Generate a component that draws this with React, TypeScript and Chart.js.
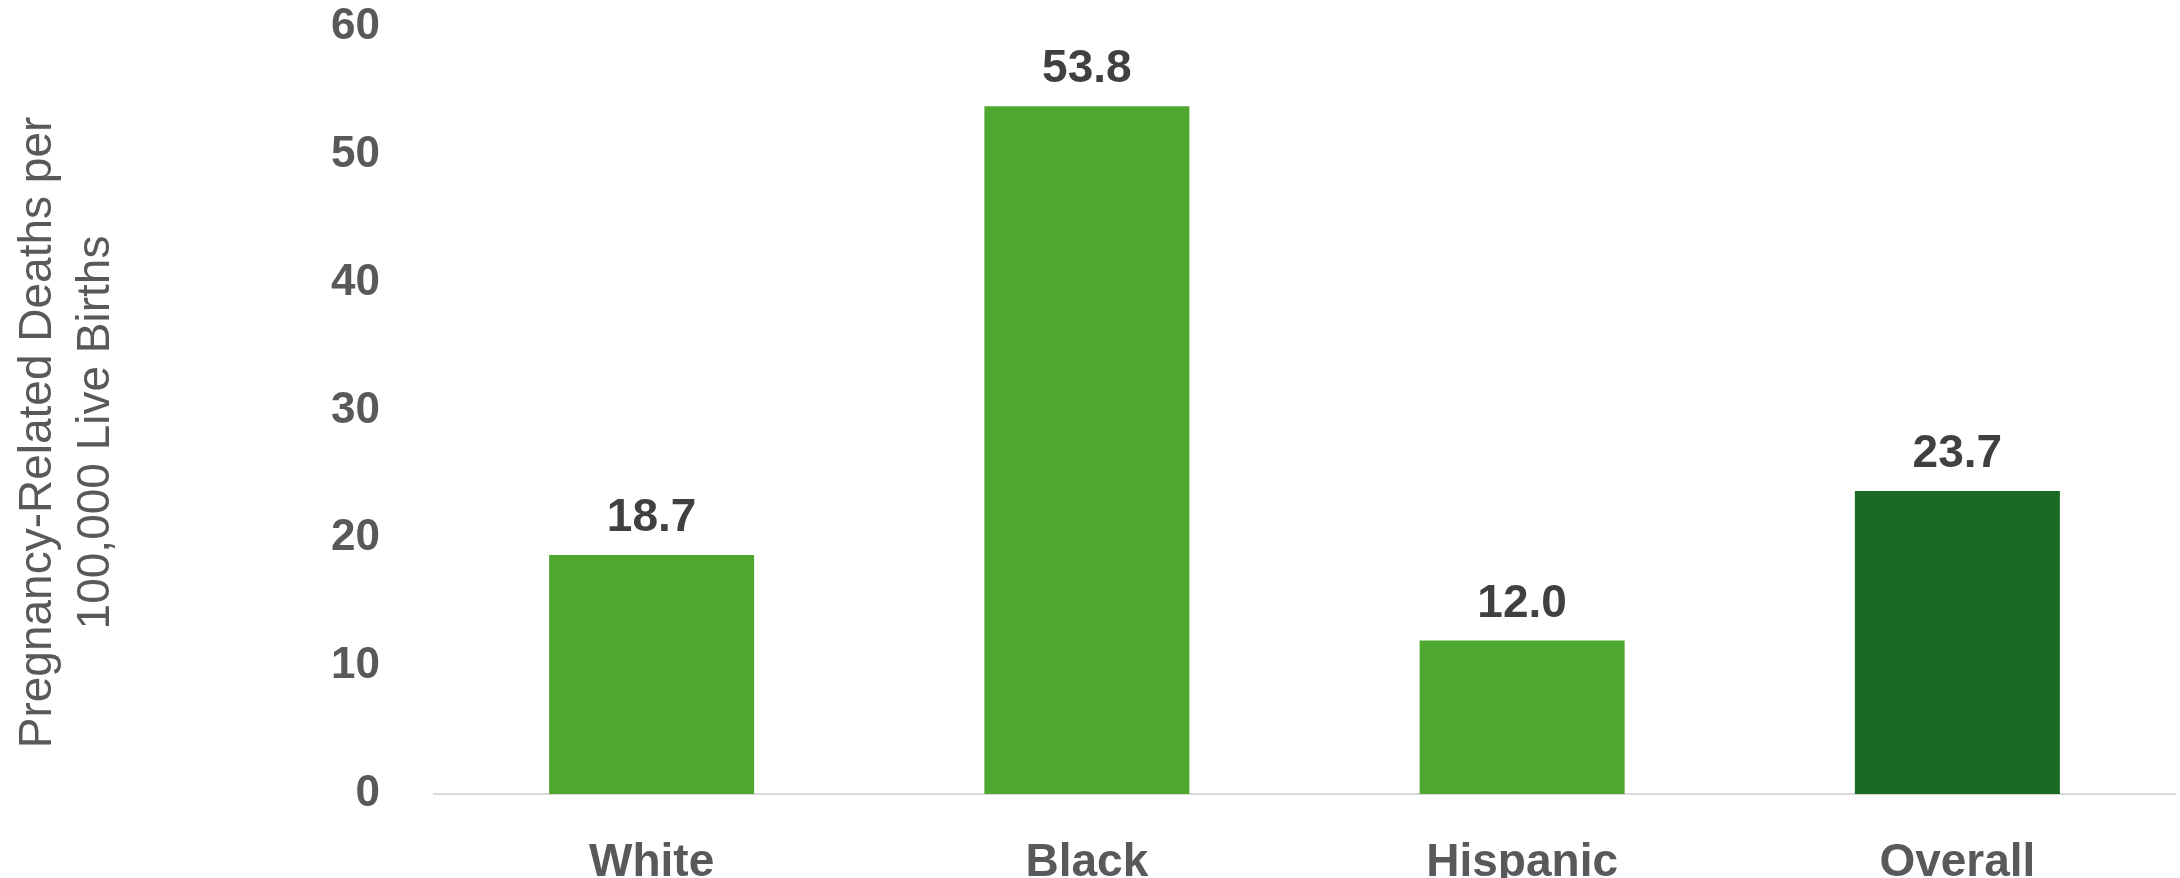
import React, { useEffect, useRef } from "react";
import { Chart, registerables } from "chart.js";

Chart.register(...registerables);

const categories = ["White", "Black", "Hispanic", "Overall"];
const deathRates = [18.7, 53.8, 12.0, 23.7];
const barColors = ["#4EA72E", "#4EA72E", "#4EA72E", "#196B24"];
const yTickValues = [0, 10, 20, 30, 40, 50, 60];
const axisTitleLines = ["Pregnancy-Related Deaths per", "100,000 Live Births"];

const FONT = "'Liberation Sans', Arial, Helvetica, sans-serif";

const dataLabelPlugin = {
  id: "dataLabels",
  afterDatasetsDraw(chart: any) {
    const ctx = chart.ctx;
    const meta = chart.getDatasetMeta(0);
    ctx.save();
    ctx.font = `bold 46px ${FONT}`;
    ctx.fillStyle = "#404040";
    ctx.textAlign = "center";
    ctx.textBaseline = "alphabetic";
    meta.data.forEach((bar: any, i: number) => {
      ctx.fillText(deathRates[i].toFixed(1), bar.x, bar.y - 24);
    });
    ctx.restore();
  },
};

const axisTitlePlugin = {
  id: "axisTitle",
  afterDraw(chart: any) {
    const ctx = chart.ctx;
    const area = chart.chartArea;
    const cy = (area.top + area.bottom) / 2 + 22;
    const baselines = [area.left - 383, area.left - 325];
    ctx.save();
    ctx.font = `46px ${FONT}`;
    ctx.fillStyle = "#595959";
    ctx.textAlign = "center";
    ctx.textBaseline = "alphabetic";
    axisTitleLines.forEach((line, i) => {
      ctx.save();
      ctx.translate(baselines[i], cy);
      ctx.rotate(-Math.PI / 2);
      ctx.fillText(line, 0, 0);
      ctx.restore();
    });
    ctx.restore();
  },
};

function BarChart() {
  const canvasRef = useRef<HTMLCanvasElement | null>(null);

  useEffect(() => {
    if (!canvasRef.current) return;
    const chart = new Chart(canvasRef.current, {
      type: "bar",
      data: {
        labels: categories,
        datasets: [
          {
            data: deathRates,
            backgroundColor: barColors,
            borderWidth: 0,
            barPercentage: 0.471,
            categoryPercentage: 1,
          },
        ],
      },
      options: {
        animation: false,
        responsive: false,
        maintainAspectRatio: false,
        layout: { padding: { top: 27, right: 5, left: 0, bottom: 0 } },
        plugins: {
          legend: { display: false },
          tooltip: { enabled: false },
          title: { display: false },
        },
        scales: {
          x: {
            grid: { display: false },
            border: { display: true, color: "#D9D9D9", width: 2 },
            ticks: {
              color: "#595959",
              font: { family: FONT, size: 46, weight: "bold" },
              padding: 34,
              maxRotation: 0,
              autoSkip: false,
            },
            afterFit(scale: any) {
              scale.height = 84;
              scale.paddingLeft = 0;
              scale.paddingRight = 0;
            },
          },
          y: {
            min: 0,
            max: 60,
            grid: { display: false },
            border: { display: false },
            afterBuildTicks(scale: any) {
              scale.ticks = yTickValues.map((v) => ({ value: v }));
            },
            ticks: {
              color: "#595959",
              font: { family: FONT, size: 44, weight: "bold" },
              padding: 46,
              callback: (v: any) => String(v),
            },
            afterFit(scale: any) {
              scale.width = 434;
              scale.paddingTop = 0;
              scale.paddingBottom = 0;
            },
          },
        },
      },
      plugins: [dataLabelPlugin, axisTitlePlugin],
    });
    return () => chart.destroy();
  }, []);

  return <canvas ref={canvasRef} width={2180} height={878} style={{ display: "block" }} />;
}

export default function App() {
  return (
    <div style={{ position: "fixed", left: 0, top: 0, width: 2180, height: 878, background: "#fff" }}>
      <BarChart />
    </div>
  );
}
